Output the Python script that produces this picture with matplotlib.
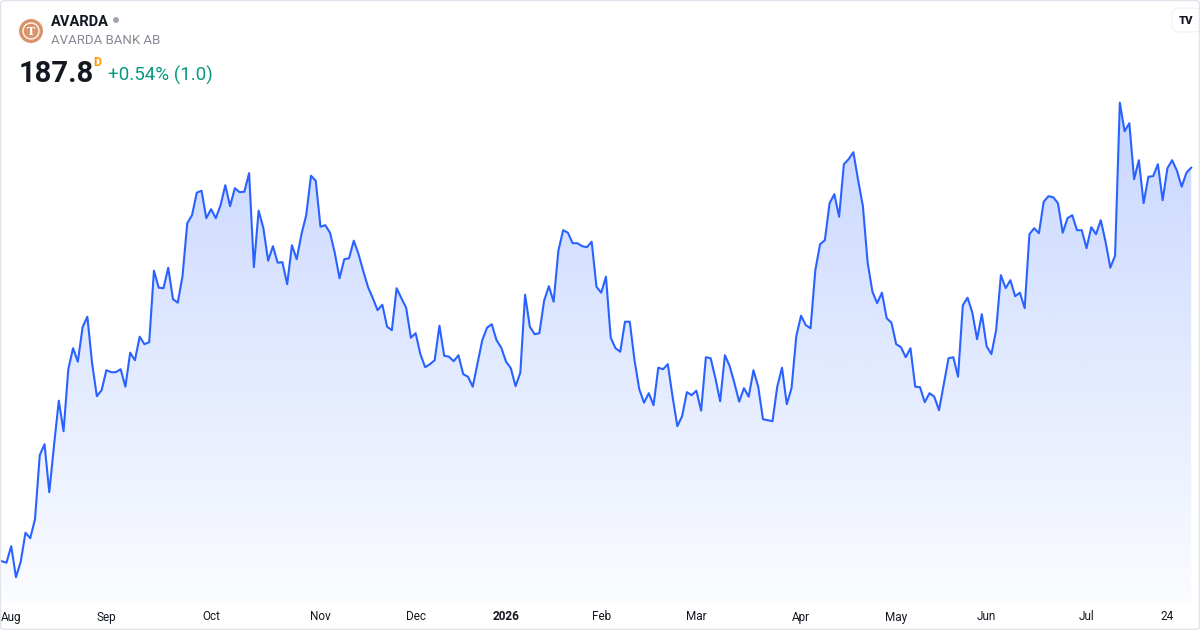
import numpy as np
import matplotlib.pyplot as plt
from matplotlib.patches import FancyBboxPatch, Circle, Polygon
from matplotlib.transforms import blended_transform_factory

# ==========================================
# DATOS (cierre diario, AVARDA BANK AB)
# ==========================================
precios = [
    109.1, 108.8, 112.1, 105.9, 109.0, 114.8, 113.7, 117.5, 130.3, 132.5,
    122.9, 132.3, 141.2, 135.1, 147.5, 151.7, 149.0, 155.9, 158.0, 148.7,
    142.1, 143.3, 147.3, 146.9, 146.9, 147.5, 144.0, 150.8, 149.3, 154.0,
    152.5, 152.9, 167.2, 163.8, 163.7, 167.8, 161.5, 160.8, 166.1, 176.7,
    178.3, 182.8, 183.2, 177.7, 179.5, 177.7, 180.3, 184.3, 180.1, 183.7,
    182.9, 183.0, 186.7, 167.9, 179.2, 175.7, 169.2, 172.1, 168.8, 168.9,
    164.5, 172.3, 169.5, 174.5, 178.3, 186.2, 185.2, 176.0, 176.3, 174.8,
    170.8, 165.7, 169.5, 169.7, 173.2, 170.5, 167.1, 163.9, 161.7, 159.3,
    160.4, 156.0, 155.3, 163.7, 161.7, 159.8, 153.8, 154.7, 150.5, 147.9,
    148.5, 149.3, 156.2, 150.2, 150.0, 149.1, 150.3, 146.5, 146.0, 144.0,
    148.7, 153.3, 155.8, 156.5, 153.3, 151.8, 149.0, 147.7, 144.1, 146.8,
    162.4, 156.0, 154.5, 154.7, 161.2, 164.1, 161.0, 171.2, 175.3, 174.8,
    172.7, 172.7, 172.1, 171.9, 173.0, 164.0, 162.8, 166.0, 153.8, 151.7,
    151.0, 157.0, 157.0, 149.3, 143.5, 140.8, 142.7, 140.3, 147.8, 147.5,
    148.5, 142.0, 136.1, 138.1, 142.9, 142.3, 143.2, 139.2, 149.9, 149.7,
    145.7, 141.1, 150.3, 148.1, 144.7, 141.0, 143.7, 142.0, 147.3, 144.0,
    137.5, 137.3, 137.1, 144.0, 147.8, 140.5, 143.7, 154.1, 158.2, 156.3,
    155.7, 167.3, 172.5, 173.3, 180.7, 182.5, 178.0, 188.5, 189.5, 190.9,
    185.3, 180.1, 168.8, 163.0, 160.7, 162.8, 157.7, 156.8, 152.5, 151.9,
    149.9, 151.7, 144.0, 143.9, 140.9, 142.7, 142.0, 139.3, 144.5, 149.7,
    149.9, 146.0, 160.3, 161.8, 158.8, 153.5, 158.5, 152.1, 150.5, 155.3,
    166.3, 163.7, 165.3, 162.1, 162.8, 159.7, 174.5, 175.7, 174.7, 181.0,
    182.1, 181.9, 180.7, 174.8, 177.7, 178.3, 175.3, 175.3, 171.7, 175.9,
    174.5, 177.3, 173.0, 167.8, 170.2, 200.8, 195.1, 196.7, 185.5, 189.3,
    180.7, 186.0, 186.1, 188.5, 181.3, 187.7, 189.3, 187.2, 184.0, 186.8,
    187.8,
]

# Etiquetas del eje x (índice de sesión donde aparece cada una)
etiquetas_x = ['Aug', 'Sep', 'Oct', 'Nov', 'Dec', '2026', 'Feb', 'Mar',
               'Apr', 'May', 'Jun', 'Jul', '24']
posiciones_x = [2, 22, 44, 67, 87, 106, 126, 146, 168, 188, 207, 228, 245]

ticker = 'AVARDA'
nombre = 'AVARDA BANK AB'
ultimo = '187.8'
cambio = '+0.54% (1.0)'

# ==========================================
# GRÁFICO
# ==========================================
azul = '#2962FF'
fuente = ['Roboto', 'DejaVu Sans']

fig = plt.figure(figsize=(12, 6.3), dpi=100)
fig.patch.set_facecolor('white')

ax = fig.add_axes([0, 27 / 630, 1, 513 / 630])
dias = np.arange(len(precios))
ax.set_xlim(-0.357, 251.85)
ax.set_ylim(100.74, 203.34)
ax.axis('off')

# Línea principal
ax.plot(dias, precios, color=azul, lw=1.5, solid_joinstyle='round', zorder=3)

# Relleno con degradado (más intenso arriba, casi blanco abajo)
y0, y1 = ax.get_ylim()
pmax = max(precios)
grad = np.linspace(0, 1, 256).reshape(-1, 1)
rgba = np.zeros((256, 1, 4))
rgba[..., 0] = 41 / 255
rgba[..., 1] = 98 / 255
rgba[..., 2] = 1.0
rgba[..., 3] = 0.02 + 0.24 * grad
img = ax.imshow(rgba, extent=[dias[0], dias[-1], y0, pmax], origin='lower',
                aspect='auto', zorder=1, interpolation='bilinear')
vertices = np.column_stack([dias, precios])
vertices = np.vstack([[dias[0], y0], vertices, [dias[-1], y0]])
clip = Polygon(vertices, closed=True, facecolor='none', edgecolor='none')
ax.add_patch(clip)
img.set_clip_path(clip)
ax.set_xlim(-0.357, 251.85)
ax.set_ylim(y0, y1)

# Etiquetas del eje x
trans = blended_transform_factory(ax.transData, fig.transFigure)
for pos, lab in zip(posiciones_x, etiquetas_x):
    ax.text(pos, 1 - 617 / 630, lab, transform=trans, ha='center', va='center',
            fontsize=8.5, color='#131722', family=fuente,
            fontweight='bold' if lab == '2026' else 'normal', clip_on=False)

# ==========================================
# CABECERA
# ==========================================
def px(x, y):
    return x / 1200, 1 - y / 630

def pulg(x, y):
    # píxeles -> pulgadas (para círculos redondos de verdad)
    return x / 100, (630 - y) / 100

logo = Circle(pulg(31, 31), 0.12, transform=fig.dpi_scale_trans,
              facecolor='#d9946c', edgecolor='none')
fig.patches.append(logo)
anillo = Circle(pulg(31, 31), 0.08, transform=fig.dpi_scale_trans,
                facecolor='none', edgecolor='white', lw=0.9)
fig.patches.append(anillo)
fig.text(*px(31, 31.5), 'T', ha='center', va='center', fontsize=8,
         color='white', family='DejaVu Serif', fontweight='bold')

fig.text(*px(51, 26), ticker, ha='left', va='baseline', fontsize=10.5,
         fontweight='bold', color='#131722', family=fuente)
punto = Circle(pulg(116, 20), 0.03, transform=fig.dpi_scale_trans,
               facecolor='#a3a6af', edgecolor='none')
fig.patches.append(punto)
fig.text(*px(51, 44.5), nombre, ha='left', va='baseline', fontsize=9.5,
         color='#868993', family=fuente)
fig.text(*px(19, 81.5), ultimo, ha='left', va='baseline', fontsize=21,
         fontweight='bold', color='#131722', family=fuente)
fig.text(*px(93, 66), 'D', ha='left', va='baseline', fontsize=9,
         fontweight='bold', color='#ff9800', family=fuente)
fig.text(*px(108, 81), cambio, ha='left', va='baseline', fontsize=13.5,
         color='#089981', family=fuente)

# Logo TV arriba a la derecha
caja = FancyBboxPatch(px(1172, 32), 30 / 1200, 24 / 630,
                      boxstyle='round,pad=0,rounding_size=0.008',
                      transform=fig.transFigure, facecolor='white',
                      edgecolor='#f0f1f4', lw=0.8)
fig.patches.append(caja)
fig.text(*px(1186, 20.5), 'TV', ha='center', va='center', fontsize=8,
         fontweight='heavy', color='#131722', family=fuente)

# Marco exterior
marco = FancyBboxPatch((0.5 / 1200, 0.5 / 630), 1 - 1 / 1200, 1 - 1 / 630,
                       boxstyle='round,pad=0,rounding_size=0.005',
                       transform=fig.transFigure, facecolor='none',
                       edgecolor='#e0e3eb', lw=1)
fig.patches.append(marco)

plt.savefig('out.png', dpi=100, facecolor='white')
